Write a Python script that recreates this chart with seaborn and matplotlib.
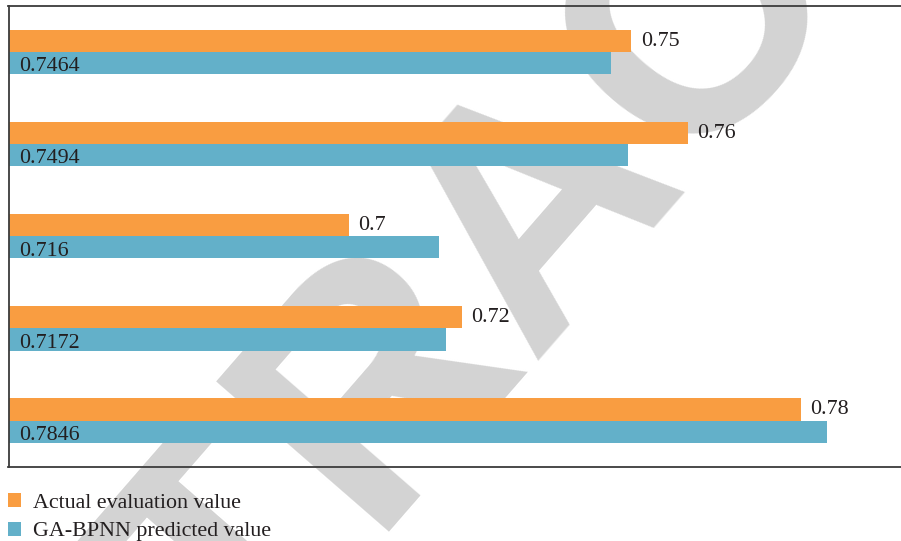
import matplotlib
matplotlib.use("Agg")
import matplotlib.pyplot as plt
import matplotlib.transforms as mtransforms
import seaborn as sns
import pandas as pd

groups = ["1", "2", "3", "4", "5"]
actual = [0.75, 0.76, 0.7, 0.72, 0.78]
predicted = [0.7464, 0.7494, 0.716, 0.7172, 0.7846]
series_names = ["Actual evaluation value", "GA-BPNN predicted value"]
colors = ["#F99D41", "#63B0C9"]

df = pd.DataFrame({
    "group": groups * 2,
    "value": actual + predicted,
    "series": [series_names[0]] * len(groups) + [series_names[1]] * len(groups),
})

sns.set_theme(style="white")
plt.rcParams["font.family"] = ["Liberation Serif", "DejaVu Serif"]

W, H = 901, 541
fig = plt.figure(figsize=(W / 100, H / 100), dpi=100)
ax = fig.add_axes([8.5 / W, (H - 466.7) / H, 1 - 8.5 / W, (466.7 - 5.7) / H])
ax.patch.set_alpha(0)

# watermark behind chart
fig.text(540 / W, 1 - 202 / H, "RETRACTED", fontsize=240, fontweight="bold",
         family="Liberation Sans", color="#d3d3d3", rotation=49,
         rotation_mode="anchor", ha="center", va="center", zorder=-5)

sns.barplot(data=df, y="group", x="value", hue="series", orient="h",
            palette=colors, width=0.48, saturation=1, ax=ax,
            order=groups, hue_order=series_names, linewidth=0, edgecolor="none")

ax.set_xlim(0.6398, 0.6398 + (W - 8.5) / 5650)
ax.set_xlabel("")
ax.set_ylabel("")
ax.set_xticks([])
ax.set_yticks([])
for s in ["left", "top", "bottom"]:
    ax.spines[s].set_color("#3c3c3c")
    ax.spines[s].set_linewidth(1.3)
ax.spines["right"].set_visible(False)

fs = 15.8
tc = "#231f20"
trans = mtransforms.blended_transform_factory(ax.transAxes, ax.transData)
# actual labels: outside bar end
for bar, v in zip(ax.containers[0], actual):
    yc = bar.get_y() + bar.get_height() / 2
    ax.annotate(f"{v:g}", xy=(bar.get_width(), yc), xycoords="data",
                xytext=(7, -0.3), textcoords="offset points", ha="left",
                va="center", fontsize=fs, color=tc)
# predicted labels: inside, near left axis
for bar, v in zip(ax.containers[1], predicted):
    yc = bar.get_y() + bar.get_height() / 2
    ax.annotate(f"{v:g}", xy=(0, yc), xycoords=trans, xytext=(8, -2.8),
                textcoords="offset points", ha="left", va="center",
                fontsize=fs, color=tc)

handles, labels = ax.get_legend_handles_labels()
ax.legend_.remove()
fig.legend(handles, labels, loc="upper left", bbox_to_anchor=(7.5 / W, 1 - 493 / H),
           frameon=False, fontsize=fs, handlelength=0.62, handleheight=0.62,
           handletextpad=0.55, labelspacing=0.4, borderpad=0, borderaxespad=0,
           labelcolor=tc)

fig.savefig("out.png", dpi=100)
